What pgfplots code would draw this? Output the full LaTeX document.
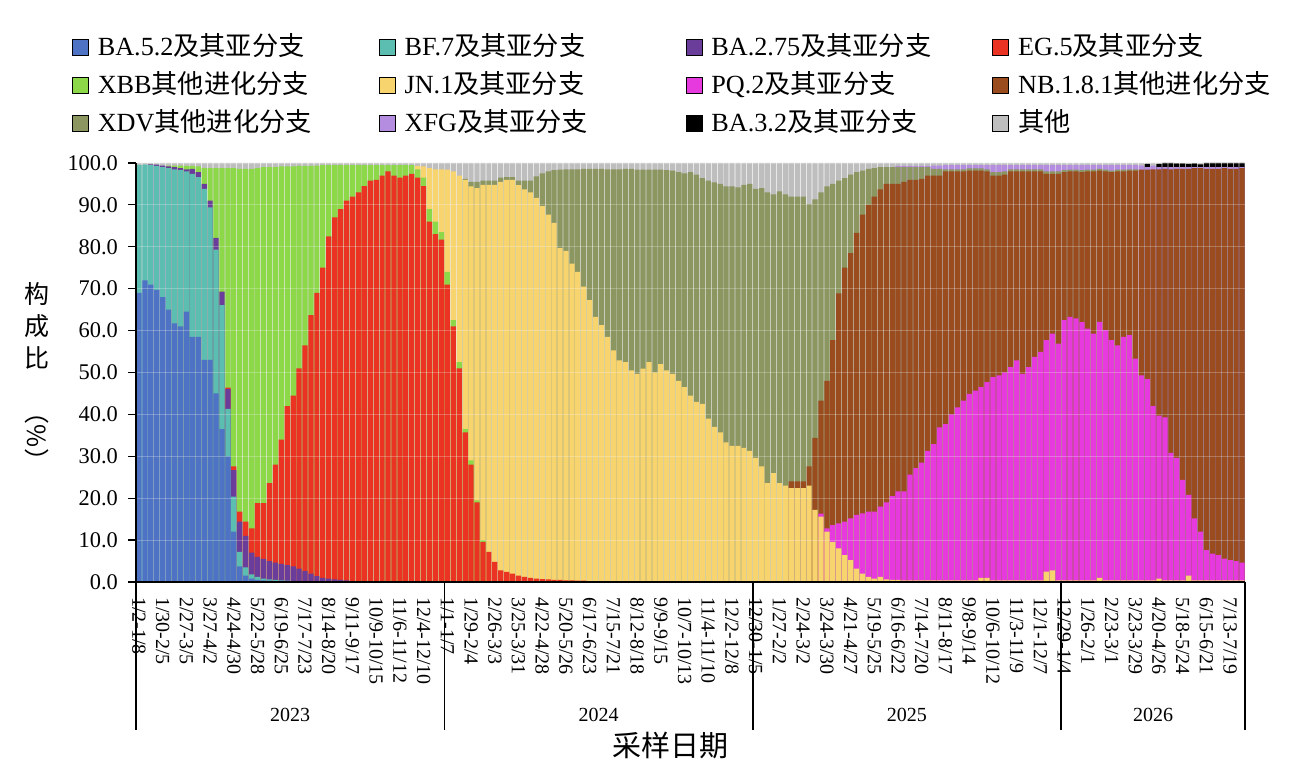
\documentclass[border=0pt]{standalone}
\usepackage{fontspec}
\setmainfont{Liberation Serif}
\newfontfamily\cjk{Noto Sans CJK SC}
\usepackage{pgfplots}
\pgfplotsset{compat=1.18}
\definecolor{cB}{HTML}{4F73C4}
\definecolor{cT}{HTML}{5CBDB1}
\definecolor{cP}{HTML}{6A3D9A}
\definecolor{cR}{HTML}{EA3323}
\definecolor{cG}{HTML}{8CD848}
\definecolor{cY}{HTML}{F8D46E}
\definecolor{cM}{HTML}{E63ADE}
\definecolor{cN}{HTML}{9A4C1E}
\definecolor{cD}{HTML}{8C9660}
\definecolor{cF}{HTML}{B48CE0}
\definecolor{cK}{HTML}{000000}
\definecolor{cO}{HTML}{BEBEBE}
\pgfplotsset{mybar/.style={ybar, bar width=0.88, bar shift=0pt, draw=none, fill=#1}}
\newcommand{\LE}[1]{\makebox[136pt][l]{#1}}
\begin{document}
\begin{tikzpicture}
\path[use as bounding box] (-68pt,-99pt) rectangle (579pt,291pt);
\begin{axis}[
  at={(0,0)}, anchor=south west,
  scale only axis, width=554.5pt, height=209.5pt,
  xmin=-0.5, xmax=186.5, ymin=0, ymax=100,
  clip=false,
  axis lines*=left,
  axis line style={black, line width=0.8pt},
  axis on top,
  ymajorgrids,
  grid style={white, opacity=0.25, line width=0.4pt},
  ytick={0,10,...,100},
  /pgf/number format/assume math mode=true,
  yticklabel style={font=\fontsize{11.2}{13}\selectfont, xshift=-1.5pt, /pgf/number format/fixed, /pgf/number format/fixed zerofill, /pgf/number format/precision=1},
  xtick={0,4,...,184},
  xticklabels={1/2-1/8,1/30-2/5,2/27-3/5,3/27-4/2,4/24-4/30,5/22-5/28,6/19-6/25,7/17-7/23,8/14-8/20,9/11-9/17,10/9-10/15,11/6-11/12,12/4-12/10,
  1/1-1/7,1/29-2/4,2/26-3/3,3/25-3/31,4/22-4/28,5/20-5/26,6/17-6/23,7/15-7/21,8/12-8/18,9/9-9/15,10/7-10/13,11/4-11/10,12/2-12/8,
  12/30-1/5,1/27-2/2,2/24-3/2,3/24-3/30,4/21-4/27,5/19-5/25,6/16-6/22,7/14-7/20,8/11-8/17,9/8-9/14,10/6-10/12,11/3-11/9,12/1-12/7,
  12/29-1/4,1/26-2/1,2/23-3/1,3/23-3/29,4/20-4/26,5/18-5/24,6/15-6/21,7/13-7/19},
  xticklabel style={rotate=-90, anchor=west, font=\fontsize{10}{12}\selectfont},
  xtick style={draw=none},
  ytick style={black, line width=0.6pt},
  tick align=outside,
  major tick length=4pt,
  legend image code/.code={\draw[#1] (0pt,-4pt) rectangle (8pt,4pt);},
  reverse legend,
  legend columns=4,
  legend cell align=left,
  legend style={at={(-0.0577,1.3174)}, anchor=north west, draw=none, fill=none, inner sep=0pt, outer sep=0pt, column sep=0pt, row sep=1.5pt, font=\fontsize{13.1}{15}\selectfont, nodes={inner xsep=4.5pt, inner ysep=2pt, text height=10.5pt, text depth=3pt}},
]
% Other (top layer)
\addplot[mybar=cO] coordinates {(0,100)(1,100)(2,100)(3,100)(4,100)(5,100)(6,100)(7,100)(8,100)(9,100)(10,100)(11,100)(12,100)(13,100)(14,100)(15,100)(16,100)(17,100)(18,100)(19,100)(20,100)(21,100)(22,100)(23,100)(24,100)(25,100)(26,100)(27,100)(28,100)(29,100)(30,100)(31,100)(32,100)(33,100)(34,100)(35,100)(36,100)(37,100)(38,100)(39,100)(40,100)(41,100)(42,100)(43,100)(44,100)(45,100)(46,100)(47,100)(48,100)(49,100)(50,100)(51,100)(52,100)(53,100)(54,100)(55,100)(56,100)(57,100)(58,100)(59,100)(60,100)(61,100)(62,100)(63,100)(64,100)(65,100)(66,100)(67,100)(68,100)(69,100)(70,100)(71,100)(72,100)(73,100)(74,100)(75,100)(76,100)(77,100)(78,100)(79,100)(80,100)(81,100)(82,100)(83,100)(84,100)(85,100)(86,100)(87,100)(88,100)(89,100)(90,100)(91,100)(92,100)(93,100)(94,100)(95,100)(96,100)(97,100)(98,100)(99,100)(100,100)(101,100)(102,100)(103,100)(104,100)(105,100)(106,100)(107,100)(108,100)(109,100)(110,100)(111,100)(112,100)(113,100)(114,100)(115,100)(116,100)(117,100)(118,100)(119,100)(120,100)(121,100)(122,100)(123,100)(124,100)(125,100)(126,100)(127,100)(128,100)(129,100)(130,100)(131,100)(132,100)(133,100)(134,100)(135,100)(136,100)(137,100)(138,100)(139,100)(140,100)(141,100)(142,100)(143,100)(144,100)(145,100)(146,100)(147,100)(148,100)(149,100)(150,100)(151,100)(152,100)(153,100)(154,100)(155,100)(156,100)(157,100)(158,100)(159,100)(160,100)(161,100)(162,100)(163,100)(164,100)(165,100)(166,100)(167,100)(168,100)(169,100)(170,100)(171,100)(172,100)(173,100)(174,100)(175,100)(176,100)(177,100)(178,100)(179,100)(180,100)(181,100)(182,100)(183,100)(184,100)(185,100)(186,100)};
\addlegendentry{{\cjk 其他}}
% BA.3.2
\addplot[mybar=cK] coordinates {(170,99.8)(172,99.8)(173,100)(174,100)(175,99.9)(176,99.9)(177,99.8)(178,99.9)(179,99.7)(180,100)(181,100)(182,100)(183,100)(184,100)(185,100)(186,100)};
\addlegendentry{\LE{BA.3.2{\cjk 及其亚分支}}}
% XFG
\addplot[mybar=cF] coordinates {(128,99.3)(129,99.3)(130,99.3)(131,99.3)(132,99.3)(133,99.3)(134,99.4)(135,99.4)(136,99.5)(137,99.5)(138,99.5)(139,99.5)(140,99.5)(141,99.5)(142,99.5)(143,99.5)(144,99.5)(145,99.5)(146,99.5)(147,99.5)(148,99.5)(149,99.5)(150,99.5)(151,99.5)(152,99.5)(153,99.5)(154,99.5)(155,99.5)(156,99.5)(157,99.5)(158,99.5)(159,99.5)(160,99.5)(161,99.5)(162,99.5)(163,99.5)(164,99.5)(165,99.5)(166,99.5)(167,99.5)(168,99.5)(169,99.4)(170,99)(171,99.4)(172,99)(173,99)(174,99)(175,99)(176,99)(177,99)(178,99)(179,99)(180,99)(181,99)(182,99)(183,99)(184,99)(185,99)(186,99)};
\addlegendentry{\LE{XFG{\cjk 及其亚分支}}}
% XDV
\addplot[mybar=cD] coordinates {(55,96.2)(56,95.5)(57,95.5)(58,95.8)(59,95.8)(60,95.8)(61,96.5)(62,96.6)(63,96.6)(64,95.8)(65,95.8)(66,95.8)(67,96.8)(68,97.5)(69,98)(70,98.3)(71,98.4)(72,98.5)(73,98.5)(74,98.5)(75,98.6)(76,98.6)(77,98.6)(78,98.6)(79,98.5)(80,98.5)(81,98.5)(82,98.6)(83,98.6)(84,98.4)(85,98.4)(86,98.4)(87,98.4)(88,98.4)(89,98.3)(90,98.2)(91,97.8)(92,97.5)(93,97.8)(94,97.2)(95,96.4)(96,95.8)(97,95.4)(98,95)(99,94.4)(100,94.4)(101,94.2)(102,94.8)(103,95)(104,93.8)(105,94)(106,93)(107,92.5)(108,93.2)(109,92.5)(110,92)(111,92)(112,92)(113,90.2)(114,91.3)(115,93)(116,94.4)(117,95)(118,95.8)(119,96.4)(120,97.2)(121,97.8)(122,98.2)(123,98.6)(124,98.8)(125,99)(126,99)(127,99)(128,99)(129,99)(130,99)(131,99)(132,99)(133,99)(134,98.6)(135,98.6)(136,98.5)(137,98.5)(138,98.5)(139,98.5)(140,98.7)(141,98.7)(142,98.7)(143,98.5)(144,97.8)(145,97.8)(146,98)(147,98.5)(148,98.5)(149,98.5)(150,98.5)(151,98.5)(152,98.5)(153,98)(154,98)(155,98)(156,98.3)(157,98.4)(158,98.4)(159,98.3)(160,98.4)(161,98.4)(162,98.6)(163,98.4)(164,98.2)(165,98.4)(166,98.4)(167,98.5)(168,98.5)};
\addlegendentry{\LE{XDV{\cjk 其他进化分支}}}
% NB.1.8.1
\addplot[mybar=cN] coordinates {(110,24)(111,24)(112,24)(113,27.6)(114,34.4)(115,43.3)(116,48)(117,57.7)(118,68.9)(119,75)(120,78.5)(121,83.3)(122,87.7)(123,90)(124,92)(125,93.7)(126,95)(127,95)(128,95)(129,95.5)(130,96)(131,96)(132,96.2)(133,97)(134,97)(135,97)(136,98)(137,98)(138,98)(139,98)(140,98.2)(141,98.2)(142,98.2)(143,98)(144,97)(145,97)(146,97.2)(147,98)(148,98)(149,98)(150,98)(151,98)(152,98)(153,97.4)(154,97.4)(155,97.4)(156,97.8)(157,98)(158,98)(159,97.8)(160,98)(161,98)(162,98.2)(163,98)(164,97.8)(165,98)(166,98)(167,98.2)(168,98.2)(169,98.4)(170,98.4)(171,98.5)(172,98.5)(173,98.6)(174,98.5)(175,98.6)(176,98.6)(177,98.6)(178,98.8)(179,98.8)(180,98.6)(181,98.6)(182,98.6)(183,98.8)(184,98.6)(185,98.6)(186,98.8)};
\addlegendentry{\LE{NB.1.8.1{\cjk 其他进化分支}}}
% PQ.2
\addplot[mybar=cM] coordinates {(115,16.3)(116,12.8)(117,13.6)(118,14)(119,14.4)(120,15.2)(121,16)(122,16.4)(123,16.8)(124,16.8)(125,18)(126,19)(127,20.5)(128,21.6)(129,21.6)(130,25.6)(131,27.2)(132,28.5)(133,31.3)(134,32.9)(135,36.9)(136,37.7)(137,40)(138,41.7)(139,43.3)(140,44.9)(141,45.7)(142,46.5)(143,47.7)(144,48.9)(145,49.3)(146,50)(147,51.3)(148,52.9)(149,49.7)(150,51.3)(151,53.7)(152,54.9)(153,57.7)(154,59.3)(155,56.9)(156,62.5)(157,63.3)(158,62.9)(159,62)(160,60.5)(161,59.3)(162,62.1)(163,60.1)(164,57.7)(165,56.5)(166,58.5)(167,58.9)(168,53.3)(169,49.3)(170,48.4)(171,42)(172,39.7)(173,39.3)(174,30.8)(175,29.6)(176,24.4)(177,20.8)(178,15.2)(179,12)(180,7.6)(181,6.8)(182,6.4)(183,5.6)(184,5.2)(185,5)(186,4.6)};
\addlegendentry{\LE{PQ.2{\cjk 及其亚分支}}}
% JN.1
\addplot[mybar=cY] coordinates {(47,99.3)(48,99.2)(49,98.8)(50,98.5)(51,98.5)(52,98.4)(53,98)(54,97)(55,96)(56,94.4)(57,94)(58,94.8)(59,94.8)(60,94.8)(61,95.5)(62,96)(63,96)(64,94.7)(65,93.7)(66,93)(67,91.7)(68,89.7)(69,87.7)(70,85.7)(71,79.7)(72,79)(73,76)(74,74)(75,70.5)(76,67.3)(77,63.3)(78,61.3)(79,58.5)(80,55.3)(81,52.9)(82,52.5)(83,50.5)(84,49.7)(85,50.9)(86,52.5)(87,50)(88,52)(89,50.5)(90,49.7)(91,48)(92,46.5)(93,44.5)(94,43)(95,42.5)(96,39)(97,37)(98,35.7)(99,33.3)(100,32.5)(101,32.5)(102,32)(103,31.3)(104,29.6)(105,27.6)(106,23.6)(107,26)(108,23.6)(109,23)(110,22.4)(111,22.4)(112,22.4)(113,23)(114,17.2)(115,15.6)(116,12)(117,9.6)(118,8)(119,6.4)(120,5.2)(121,3.2)(122,2)(123,1.2)(124,0.8)(125,1.2)(126,0.6)(127,0.5)(128,0.5)(129,0.4)(130,0.4)(131,0.4)(132,0.4)(133,0.4)(134,0.4)(135,0.4)(136,0.4)(137,0.4)(138,0.4)(139,0.4)(140,0.4)(141,0.4)(142,1)(143,1)(144,0.4)(145,0.4)(146,0.4)(147,0.4)(148,0.4)(149,0.4)(150,0.4)(151,0.4)(152,0.4)(153,2.5)(154,2.8)(155,0.4)(156,0.4)(157,0.4)(158,0.4)(159,0.4)(160,0.4)(161,0.4)(162,1)(163,0.4)(164,0.4)(165,0.4)(166,0.4)(167,0.4)(168,0.4)(169,0.4)(170,0.4)(171,0.4)(172,0.8)(173,0.4)(174,0.4)(175,0.4)(176,0.4)(177,1.5)(178,0.4)(179,0.4)(180,0.4)(181,0.4)(182,0.4)(183,0.4)(184,0.4)(185,0.4)(186,0.4)};
\addlegendentry{\LE{JN.1{\cjk 及其亚分支}}}
% XBB
\addplot[mybar=cG] coordinates {(5,99.4)(6,99.4)(7,99.4)(8,99.3)(9,99.3)(10,99.2)(11,98.8)(12,98.8)(13,98.8)(14,98.8)(15,98.8)(16,98.8)(17,98.6)(18,98.6)(19,98.6)(20,98.8)(21,99)(22,99)(23,99)(24,99.2)(25,99.2)(26,99.2)(27,99.3)(28,99.3)(29,99.3)(30,99.4)(31,99.5)(32,99.5)(33,99.5)(34,99.5)(35,99.5)(36,99.5)(37,99.5)(38,99.5)(39,99.5)(40,99.5)(41,99.5)(42,99.5)(43,99.5)(44,99.5)(45,99.5)(46,99.5)(47,98.5)(48,96.5)(49,89)(50,86)(51,83.5)(52,74)(53,62.5)(54,52.5)(55,36.5)(56,29)(57,19.5)(58,10)};
\addlegendentry{\LE{XBB{\cjk 其他进化分支}}}
% EG.5
\addplot[mybar=cR] coordinates {(15,46.4)(16,27.6)(17,16.8)(18,14.4)(19,12.8)(20,18.8)(21,18.8)(22,23.6)(23,28)(24,34)(25,42)(26,44.5)(27,51)(28,56.5)(29,63.7)(30,69)(31,75)(32,82.5)(33,87)(34,89)(35,91)(36,92)(37,93)(38,94.5)(39,95.8)(40,96)(41,97)(42,98)(43,97)(44,96.5)(45,97)(46,97.4)(47,96.5)(48,94.5)(49,86)(50,83)(51,81.7)(52,71)(53,61)(54,51)(55,35.7)(56,28)(57,19)(58,9.6)(59,7.2)(60,4.8)(61,2.8)(62,2.4)(63,2)(64,1.5)(65,1.2)(66,1)(67,0.8)(68,0.7)(69,0.6)(70,0.5)(71,0.5)(72,0.4)(73,0.4)(74,0.3)(75,0.3)};
\addlegendentry{\LE{EG.5{\cjk 及其亚分支}}}
% BA.2.75
\addplot[mybar=cP] coordinates {(2,99.7)(3,99.6)(4,99.4)(5,99.2)(6,99)(7,98.8)(8,98.5)(9,98.6)(10,97.8)(11,95)(12,91)(13,82.1)(14,69.3)(15,46.1)(16,26.7)(17,14.4)(18,11)(19,7)(20,6)(21,5.5)(22,5)(23,4.6)(24,4.3)(25,4)(26,3.7)(27,3.2)(28,2.6)(29,2)(30,1.4)(31,1)(32,0.8)(33,0.6)(34,0.5)(35,0.4)};
\addlegendentry{\LE{BA.2.75{\cjk 及其亚分支}}}
% BF.7
\addplot[mybar=cT] coordinates {(0,99.5)(1,99.6)(2,99.5)(3,99.3)(4,99)(5,98.8)(6,98.5)(7,98.3)(8,98)(9,97.4)(10,96.6)(11,93.8)(12,89.4)(13,79.3)(14,66.1)(15,41.3)(16,20.4)(17,7.2)(18,3.5)(19,1.8)(20,1.2)(21,0.8)(22,0.6)(23,0.5)(24,0.4)(25,0.3)(26,0.2)(27,0.2)(28,0.15)(29,0.1)(30,0.1)};
\addlegendentry{\LE{BF.7{\cjk 及其亚分支}}}
% BA.5.2
\addplot[mybar=cB] coordinates {(0,69)(1,72)(2,71)(3,69.7)(4,68)(5,65)(6,61.7)(7,61)(8,64.5)(9,58.5)(10,58.5)(11,53)(12,53)(13,45)(14,36.5)(15,30)(16,12)(17,3.7)(18,1.5)(19,0.8)(20,0.5)(21,0.4)(22,0.3)(23,0.2)(24,0.2)(25,0.1)(26,0.1)(27,0.1)(28,0.1)};
\addlegendentry{\LE{BA.5.2{\cjk 及其亚分支}}}
% group separators and year labels
\draw[black, line width=0.8pt] (axis cs:-0.5,0) -- ++(0pt,-74pt);
\draw[black, line width=0.8pt] (axis cs:51.5,0) -- ++(0pt,-74pt);
\draw[black, line width=0.8pt] (axis cs:103.5,0) -- ++(0pt,-74pt);
\draw[black, line width=0.8pt] (axis cs:155.5,0) -- ++(0pt,-74pt);
\draw[black, line width=0.8pt] (axis cs:186.5,0) -- ++(0pt,-74pt);
\node[font=\fontsize{10}{12}\selectfont] at ([yshift=-66.5pt]axis cs:25.5,0) {2023};
\node[font=\fontsize{10}{12}\selectfont] at ([yshift=-66.5pt]axis cs:77.5,0) {2024};
\node[font=\fontsize{10}{12}\selectfont] at ([yshift=-66.5pt]axis cs:129.5,0) {2025};
\node[font=\fontsize{10}{12}\selectfont] at ([yshift=-66.5pt]axis cs:171,0) {2026};
\node[font=\cjk\fontsize{14.5}{16}\selectfont] at ([yshift=-81.5pt]axis cs:89.7,0) {采样日期};
\end{axis}
\node[inner sep=0pt, align=center, font=\cjk\fontsize{12.5}{16}\selectfont] at (-49.5pt,102pt) {构\\成\\比\\\rotatebox{-90}{（\%）}};
\end{tikzpicture}
\end{document}
